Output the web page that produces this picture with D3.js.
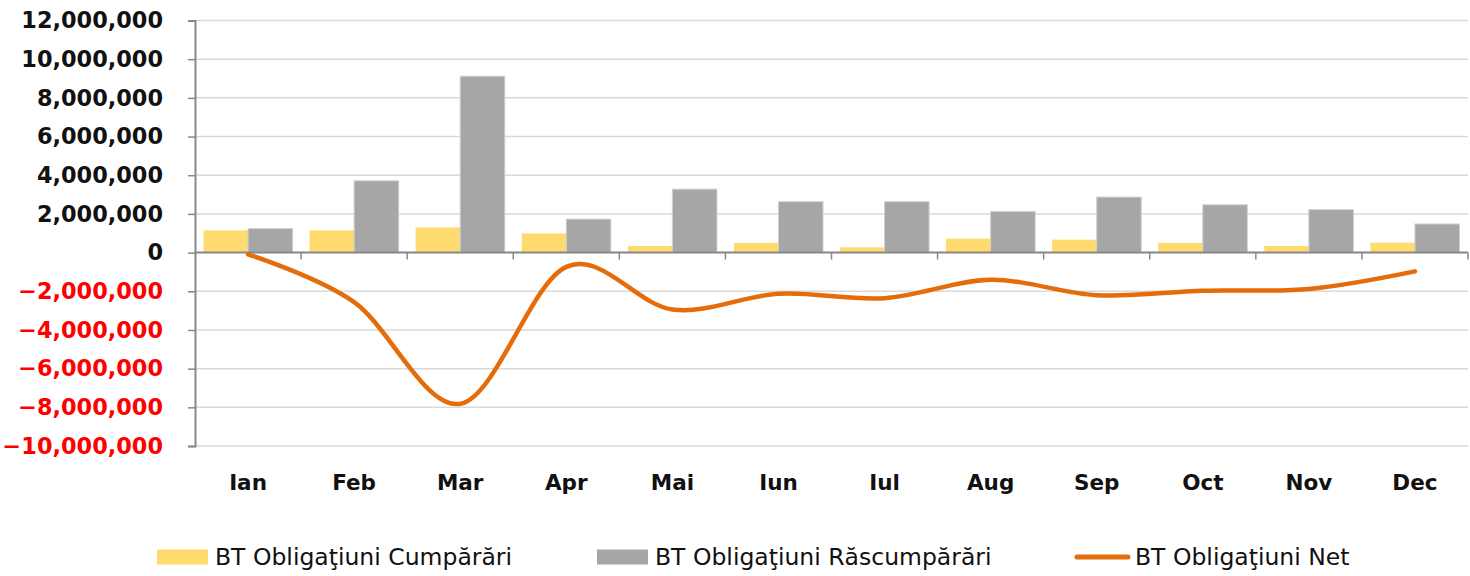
<!DOCTYPE html>
<html>
<head>
<meta charset="utf-8">
<script src="https://cdn.jsdelivr.net/npm/d3@7"></script>
<style>
    html, body { margin: 0; padding: 0; background: #fff; }
    svg { display: block; }
</style>
</head>
<body>
<svg id="chart" width="1470" height="576"></svg>
<script>
var months = ['Ian', 'Feb', 'Mar', 'Apr', 'Mai', 'Iun', 'Iul', 'Aug', 'Sep', 'Oct', 'Nov', 'Dec'];

var cumparari = [1150000, 1150000, 1300000, 990000, 340000, 500000, 270000, 720000, 670000, 500000, 340000, 510000];
var rascumparari = [1240000, 3710000, 9120000, 1730000, 3280000, 2630000, 2630000, 2130000, 2870000, 2470000, 2220000, 1480000];
var net = [-90000, -2560000, -7820000, -740000, -2940000, -2130000, -2360000, -1410000, -2200000, -1970000, -1880000, -970000];

var yTicks = [-10000000, -8000000, -6000000, -4000000, -2000000, 0, 2000000, 4000000, 6000000, 8000000, 10000000, 12000000];

var seriesNames = ['BT Obligaţiuni Cumpărări', 'BT Obligaţiuni Răscumpărări', 'BT Obligaţiuni Net'];

var colors = {
    buy: '#FFDA6F',
    sell: '#A6A6A6',
    net: '#E46C0A',
    grid: '#D9D9D9',
    axis: '#898989'
};

/**
 * Plot box.
 */
var box = {
    left: 195,
    right: 1468,
    top: 20.5,
    bottom: 446
};

var svg = d3.select('#chart');

var x = d3.scaleBand()
    .domain(months)
    .range([box.left, box.right])
    .paddingInner(0)
    .paddingOuter(0);

var y = d3.scaleLinear()
    .domain([yTicks[0], yTicks[yTicks.length - 1]])
    .range([box.bottom, box.top]);

var barWidth = x.bandwidth() * 0.42;
var fmt = d3.format(',');

// gridlines
svg.append('g').attr('class', 'grid')
    .selectAll('line')
    .data(yTicks)
    .enter().append('line')
    .attr('x1', box.left)
    .attr('x2', box.right)
    .attr('y1', function(d) { return y(d); })
    .attr('y2', function(d) { return y(d); })
    .attr('stroke', colors.grid)
    .attr('stroke-width', 1.5);

// bars
var bars = svg.append('g').attr('class', 'bars');

bars.selectAll('rect.buy')
    .data(cumparari)
    .enter().append('rect')
    .attr('class', 'buy')
    .attr('x', function(d, i) { return x(months[i]) + x.bandwidth() / 2 - barWidth; })
    .attr('y', function(d) { return y(d); })
    .attr('width', barWidth)
    .attr('height', function(d) { return y(0) - y(d); })
    .attr('fill', colors.buy);

bars.selectAll('rect.sell')
    .data(rascumparari)
    .enter().append('rect')
    .attr('class', 'sell')
    .attr('x', function(d, i) { return x(months[i]) + x.bandwidth() / 2; })
    .attr('y', function(d) { return y(d); })
    .attr('width', barWidth)
    .attr('height', function(d) { return y(0) - y(d); })
    .attr('fill', colors.sell)
    .attr('stroke', '#CFCFCF')
    .attr('stroke-width', 1);

// y axis
var yAxis = d3.axisLeft(y)
    .tickValues(yTicks)
    .tickSize(7)
    .tickPadding(25)
    .tickFormat(function(d) { return fmt(d); });

var yg = svg.append('g')
    .attr('transform', 'translate(' + box.left + ',0)')
    .call(yAxis);

yg.select('.domain').attr('stroke', colors.axis).attr('stroke-width', 2);
yg.selectAll('.tick line').attr('stroke', colors.axis).attr('stroke-width', 1.5);
yg.selectAll('.tick text')
    .attr('font-family', 'DejaVu Sans, sans-serif')
    .attr('font-weight', 'bold')
    .attr('font-size', '22.4px')
    .attr('fill', function(d) { return d < 0 ? '#FF0000' : '#111111'; });

// x axis sits on zero
var bounds = months.map(function(m) { return x(m); }).concat([box.right]);
var xg = svg.append('g').attr('class', 'x-axis');

xg.append('line')
    .attr('x1', box.left)
    .attr('x2', box.right)
    .attr('y1', y(0))
    .attr('y2', y(0))
    .attr('stroke', colors.axis)
    .attr('stroke-width', 2);

xg.selectAll('line.tick')
    .data(bounds.slice(1))
    .enter().append('line')
    .attr('class', 'tick')
    .attr('x1', function(d) { return d; })
    .attr('x2', function(d) { return d; })
    .attr('y1', y(0))
    .attr('y2', y(0) + 7)
    .attr('stroke', colors.axis)
    .attr('stroke-width', 1.5);

svg.append('g').attr('class', 'x-labels')
    .selectAll('text')
    .data(months)
    .enter().append('text')
    .attr('x', function(d) { return x(d) + x.bandwidth() / 2; })
    .attr('y', 490)
    .attr('text-anchor', 'middle')
    .attr('font-family', 'DejaVu Sans, sans-serif')
    .attr('font-weight', 'bold')
    .attr('font-size', '21.5px')
    .attr('fill', '#111111')
    .text(function(d) { return d; });

// net line, smoothed like the spreadsheet does it
var line = d3.line()
    .x(function(d, i) { return x(months[i]) + x.bandwidth() / 2; })
    .y(function(d) { return y(d); })
    .curve(d3.curveCardinal.tension(0));

svg.append('path')
    .datum(net)
    .attr('d', line)
    .attr('fill', 'none')
    .attr('stroke', colors.net)
    .attr('stroke-width', 4.5)
    .attr('stroke-linecap', 'round')
    .attr('stroke-linejoin', 'round');

// legend
var legendItems = [
    { name: seriesNames[0], kind: 'rect', color: colors.buy, x: 157, tx: 58 },
    { name: seriesNames[1], kind: 'rect', color: colors.sell, x: 597, tx: 58 },
    { name: seriesNames[2], kind: 'line', color: colors.net, x: 1077, tx: 58 }
];

var legend = svg.append('g').attr('class', 'legend')
    .selectAll('g')
    .data(legendItems)
    .enter().append('g')
    .attr('transform', function(d) { return 'translate(' + d.x + ',557)'; });

legend.filter(function(d) { return d.kind === 'rect'; })
    .append('rect')
    .attr('x', 0)
    .attr('y', -7.5)
    .attr('width', 51)
    .attr('height', 15)
    .attr('fill', function(d) { return d.color; });

legend.filter(function(d) { return d.kind === 'line'; })
    .append('line')
    .attr('x1', 0)
    .attr('x2', 51)
    .attr('y1', 0)
    .attr('y2', 0)
    .attr('stroke', function(d) { return d.color; })
    .attr('stroke-width', 5)
    .attr('stroke-linecap', 'round');

legend.append('text')
    .attr('x', function(d) { return d.tx; })
    .attr('y', 7.5)
    .attr('font-family', 'DejaVu Sans, sans-serif')
    .attr('font-size', '23.5px')
    .attr('fill', '#111111')
    .text(function(d) { return d.name; });
</script>
</body>
</html>
